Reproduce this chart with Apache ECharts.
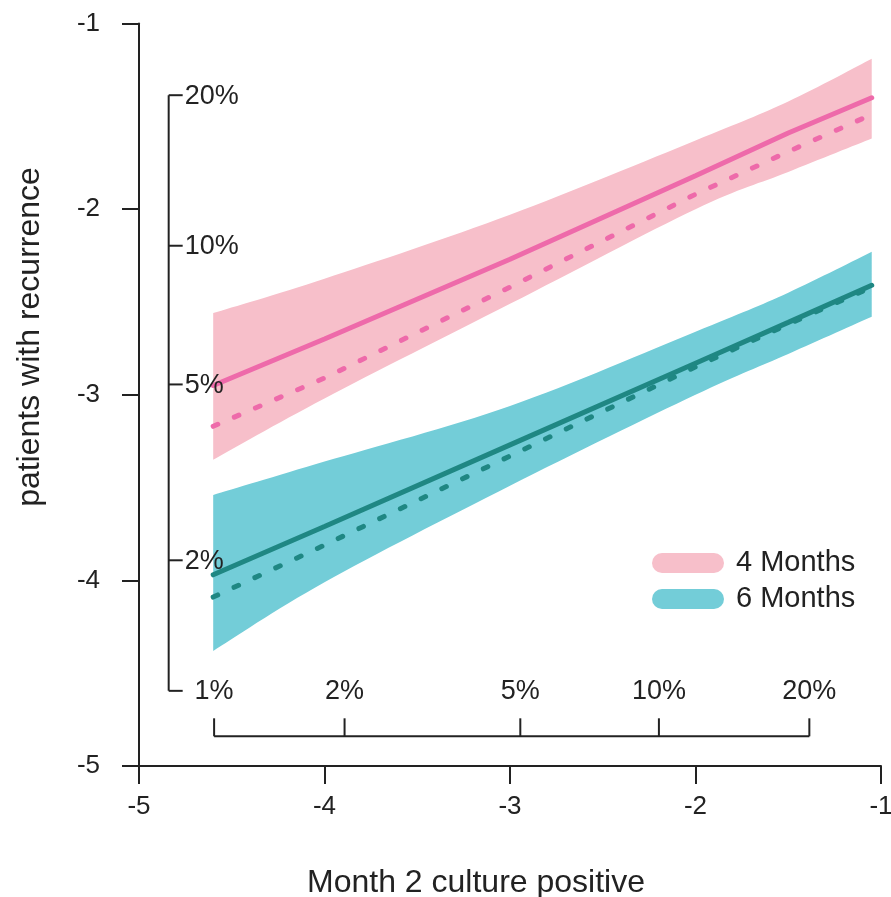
<!DOCTYPE html>
<html>
<head>
<meta charset="utf-8">
<script src="https://cdn.jsdelivr.net/npm/echarts@6/dist/echarts.min.js"></script>
<style>
html,body{margin:0;padding:0;background:#fff;overflow:hidden;}
#chart{width:891px;height:897px;}
</style>
</head>
<body>
<div id="chart"></div>
<script>
// x positions (logit of month-2 culture positive)
const xs = [-4.6, -4, -3, -2, -1.5, -1.05];
// 4 Months
const pinkUpper  = [-2.56, -2.375, -2.03, -1.63, -1.42, -1.19];
const pinkSolid  = [-2.95, -2.70, -2.27, -1.82, -1.59, -1.40];
const pinkDashed = [-3.17, -2.91, -2.42, -1.92, -1.69, -1.49];
const pinkLower  = [-3.35, -3.02, -2.51, -2.00, -1.80, -1.62];
// 6 Months
const tealUpper  = [-3.54, -3.36, -3.06, -2.66, -2.45, -2.23];
const tealSolid  = [-3.97, -3.71, -3.27, -2.83, -2.61, -2.41];
const tealDashed = [-4.09, -3.81, -3.33, -2.85, -2.62, -2.42];
const tealLower  = [-4.38, -4.01, -3.49, -3.00, -2.78, -2.58];

// percentage reference scales
const percentTicks  = [0.01, 0.02, 0.05, 0.10, 0.20];
const percentLabels = ['1%', '2%', '5%', '10%', '20%'];
const innerAxisPos = -4.84;

const seriesNames = ['4 Months', '6 Months'];
const xTitle = 'Month 2 culture positive';
const yTitle = 'patients with recurrence';

const PINK_BAND = '#F7BFCA', PINK_LINE = '#EE6AAA';
const TEAL_BAND = '#73CDD8', TEAL_LINE = '#1F8783';
const INK = '#222222';
const FONT = '"Liberation Sans", Arial, Helvetica, sans-serif';

const logit = p => Math.log(p / (1 - p));

// smooth (Catmull-Rom) path through pixel points, continuing an existing path
function smoothSegments(pts) {
  let d = '';
  for (let i = 0; i < pts.length - 1; i++) {
    const p0 = pts[Math.max(i - 1, 0)], p1 = pts[i], p2 = pts[i + 1], p3 = pts[Math.min(i + 2, pts.length - 1)];
    const c1 = [p1[0] + (p2[0] - p0[0]) / 6, p1[1] + (p2[1] - p0[1]) / 6];
    const c2 = [p2[0] - (p3[0] - p1[0]) / 6, p2[1] - (p3[1] - p1[1]) / 6];
    d += ' C' + c1[0] + ',' + c1[1] + ' ' + c2[0] + ',' + c2[1] + ' ' + p2[0] + ',' + p2[1];
  }
  return d;
}

function bandSeries(name, lower, upper, color) {
  return {
    type: 'custom',
    name: name,
    coordinateSystem: 'cartesian2d',
    encode: { x: 0, y: [1, 2] },
    data: xs.map((x, i) => [x, lower[i], upper[i]]),
    silent: true,
    itemStyle: { color: color },
    z: 1,
    renderItem: function (params, api) {
      if (params.dataIndex !== 0) return null;
      const up = xs.map((x, i) => api.coord([x, upper[i]]));
      const lo = xs.map((x, i) => api.coord([x, lower[i]])).reverse();
      let d = 'M' + up[0][0] + ',' + up[0][1] + smoothSegments(up);
      d += ' L' + lo[0][0] + ',' + lo[0][1] + smoothSegments(lo) + ' Z';
      return { type: 'path', shape: { pathData: d }, style: { fill: color } };
    }
  };
}

function lineSeries(name, ys, color, dashed) {
  return {
    type: 'line',
    name: name + (dashed ? ' dashed' : ' solid'),
    data: xs.map((x, i) => [x, ys[i]]),
    showSymbol: false,
    symbol: 'none',
    silent: true,
    z: dashed ? 3 : 4,
    lineStyle: { color: color, width: 5, type: dashed ? [5, 18] : 'solid', cap: 'round' }
  };
}

const innerAxes = {
  type: 'custom',
  name: 'percent axes',
  coordinateSystem: 'cartesian2d',
  encode: { x: 0, y: 1 },
  data: [[innerAxisPos, innerAxisPos]],
  silent: true,
  clip: false,
  z: 5,
  renderItem: function (params, api) {
    const ch = [];
    const stroke = { stroke: INK, lineWidth: 2 };
    // vertical (left) percent axis
    const t = api.coord([innerAxisPos, logit(percentTicks[percentTicks.length - 1])]);
    const b = api.coord([innerAxisPos, logit(percentTicks[0])]);
    ch.push({ type: 'line', shape: { x1: t[0], y1: t[1], x2: b[0], y2: b[1] }, style: stroke });
    percentTicks.forEach((p, i) => {
      const c = api.coord([innerAxisPos, logit(p)]);
      ch.push({ type: 'line', shape: { x1: c[0], y1: c[1], x2: c[0] + 14, y2: c[1] }, style: stroke });
      if (i > 0) {
        ch.push({ type: 'text', x: c[0] + 16, y: c[1] + 1,
          style: { text: percentLabels[i], fill: INK, font: '27px ' + FONT, textAlign: 'left', textVerticalAlign: 'middle' } });
      }
    });
    // horizontal (bottom) percent axis
    const l = api.coord([logit(percentTicks[0]), innerAxisPos]);
    const r = api.coord([logit(percentTicks[percentTicks.length - 1]), innerAxisPos]);
    ch.push({ type: 'line', shape: { x1: l[0], y1: l[1], x2: r[0], y2: r[1] }, style: stroke });
    percentTicks.forEach((p, i) => {
      const c = api.coord([logit(p), innerAxisPos]);
      ch.push({ type: 'line', shape: { x1: c[0], y1: c[1], x2: c[0], y2: c[1] - 18 }, style: stroke });
      ch.push({ type: 'text', x: c[0], y: c[1] - 45,
        style: { text: percentLabels[i], fill: INK, font: '27px ' + FONT, textAlign: 'center', textVerticalAlign: 'middle' } });
    });
    return { type: 'group', children: ch };
  }
};

const pill = 'path://M10,0 H62 A10,10 0 0 1 62,20 H10 A10,10 0 0 1 10,0 Z';

const option = {
  animation: false,
  backgroundColor: '#ffffff',
  textStyle: { fontFamily: FONT },
  grid: { left: 139, right: 10, top: 23.5, bottom: 131, containLabel: false, outerBoundsMode: 'none' },
  legend: {
    left: 647, top: 540, orient: 'vertical',
    itemWidth: 72, itemHeight: 20, itemGap: 0,
    selectedMode: false,
    textStyle: { color: INK, fontSize: 29, fontFamily: FONT, lineHeight: 20, padding: [0, 0, 16, 7] },
    data: [
      { name: seriesNames[0], icon: pill, itemStyle: { color: PINK_BAND } },
      { name: seriesNames[1], icon: pill, itemStyle: { color: TEAL_BAND } }
    ]
  },
  graphic: [
    { type: 'text', x: 476, y: 883, silent: true,
      style: { text: xTitle, fill: INK, font: '32px ' + FONT, textAlign: 'center', textVerticalAlign: 'middle' } },
    { type: 'text', x: 30, y: 337, rotation: Math.PI / 2, silent: true,
      style: { text: yTitle, fill: INK, font: '32px ' + FONT, textAlign: 'center', textVerticalAlign: 'middle' } }
  ],
  xAxis: {
    type: 'value', min: -5, max: -1, interval: 1,
    splitLine: { show: false },
    axisLine: { show: true, onZero: false, lineStyle: { color: INK, width: 2 } },
    axisTick: { show: true, inside: false, length: 18, lineStyle: { color: INK, width: 2 } },
    axisLabel: { color: INK, fontSize: 26, margin: 28, fontFamily: FONT, showMaxLabel: true, showMinLabel: true }
  },
  yAxis: {
    type: 'value', min: -5, max: -1, interval: 1,
    splitLine: { show: false },
    axisLine: { show: true, onZero: false, lineStyle: { color: INK, width: 2 } },
    axisTick: { show: true, inside: false, length: 17, lineStyle: { color: INK, width: 2 } },
    axisLabel: { color: INK, fontSize: 26, margin: 39, fontFamily: FONT, showMaxLabel: true, showMinLabel: true }
  },
  series: [
    bandSeries(seriesNames[0], pinkLower, pinkUpper, PINK_BAND),
    bandSeries(seriesNames[1], tealLower, tealUpper, TEAL_BAND),
    lineSeries(seriesNames[0], pinkDashed, PINK_LINE, true),
    lineSeries(seriesNames[0], pinkSolid, PINK_LINE, false),
    lineSeries(seriesNames[1], tealDashed, TEAL_LINE, true),
    lineSeries(seriesNames[1], tealSolid, TEAL_LINE, false),
    innerAxes
  ]
};

const chart = echarts.init(document.getElementById('chart'), null, { renderer: 'canvas' });
chart.setOption(option);
</script>
</body>
</html>
